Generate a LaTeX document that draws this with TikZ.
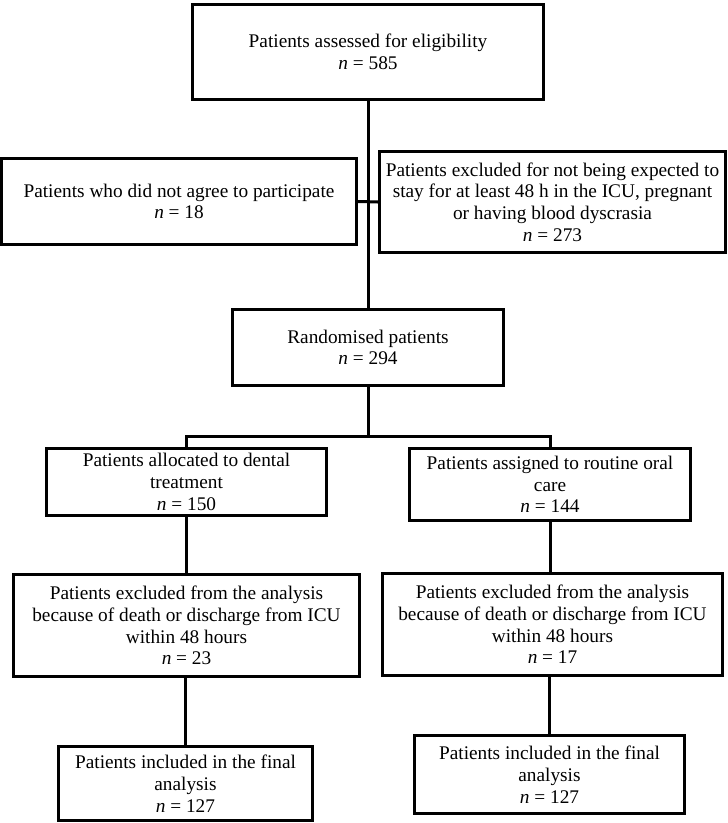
\documentclass[tikz,border=0pt]{standalone}
\usepackage{fontspec}
\setmainfont{Liberation Serif}
\begin{document}
\begin{tikzpicture}[x=1pt,y=-1pt,
  box/.style={draw=black, line width=3pt, rectangle, inner sep=0pt, align=center,
    font=\fontsize{19.3}{21.7}\selectfont},
  conn/.style={draw=black, line width=3pt}]
\useasboundingbox (0,0) rectangle (728,823);
\node[box, minimum width=351, minimum height=95] (top) at (368,52) {Patients assessed for eligibility\\\textit{n} = 585};
\node[box, minimum width=355, minimum height=86] (ex1) at (179,201.5) {Patients who did not agree to participate\\\textit{n} = 18};
\node[box, minimum width=346, minimum height=101] (ex2) at (552.5,202) {Patients excluded for not being expected to\\stay for at least 48 h in the ICU, pregnant\\or having blood dyscrasia\\\textit{n} = 273};
\node[box, minimum width=271, minimum height=76] (rand) at (368,347.5) {Randomised patients\\\textit{n} = 294};
\node[box, minimum width=280, minimum height=67] (al1) at (186.5,482) {Patients allocated to dental\\treatment\\\textit{n} = 150};
\node[box, minimum width=281, minimum height=72] (al2) at (550,484.5) {Patients assigned to routine oral\\care\\\textit{n} = 144};
\node[box, minimum width=346, minimum height=102] (ex3) at (186.5,625.5) {Patients excluded from the analysis\\because of death or discharge from ICU\\within 48 hours\\\textit{n} = 23};
\node[box, minimum width=340, minimum height=102] (ex4) at (552.5,624.5) {Patients excluded from the analysis\\because of death or discharge from ICU\\within 48 hours\\\textit{n} = 17};
\node[box, minimum width=254, minimum height=74] (fin1) at (185.5,783.5) {Patients included in the final\\analysis\\\textit{n} = 127};
\node[box, minimum width=270, minimum height=78] (fin2) at (549.5,774.5) {Patients included in the final\\analysis\\\textit{n} = 127};
\coordinate (bar) at (368,436);
\draw[conn] (top.south) -- (rand.north);
\draw[conn] (ex1.east) -- (ex2.west);
\draw[conn] (rand.south) -- (bar);
\draw[conn] (al1.north) |- (bar) -| (al2.north);
\draw[conn] (al1.south) -- (al1.south |- ex3.north);
\draw[conn] (al2.south) -- (al2.south |- ex4.north);
\draw[conn] (ex3.south -| fin1.north) -- (fin1.north);
\draw[conn] (ex4.south -| fin2.north) -- (fin2.north);
\end{tikzpicture}
\end{document}
